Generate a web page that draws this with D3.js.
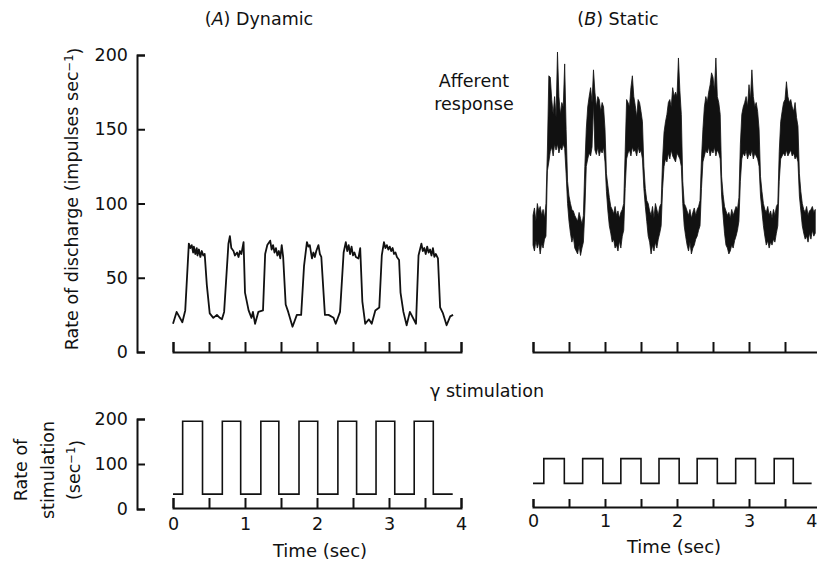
<!DOCTYPE html>
<html>
<head>
<meta charset="utf-8">
<script src="https://cdn.jsdelivr.net/npm/d3@7"></script>
<style>
body { margin: 0; background: #fff; }
svg text { font-family: "DejaVu Sans", "Liberation Sans", sans-serif; fill: #111; }
.axis path, .axis line { stroke: #111; stroke-width: 2; }
.axis text { font-size: 17.5px; fill: #111; }
</style>
</head>
<body>
<svg id="chart" width="817" height="564"></svg>
<script>

// (A) dynamic fusimotor - afferent discharge (impulses/sec), time in sec
var dynT = [0.00,0.05,0.13,0.17,0.22,0.24,0.26,0.28,0.29,0.31,0.33,0.34,0.36,0.38,0.40,0.42,0.44,0.47,
            0.51,0.56,0.61,0.65,0.68,0.71,0.77,0.79,0.81,0.84,0.86,0.89,0.91,0.93,0.95,0.98,
            1.00,1.05,1.09,1.11,1.14,1.185,1.25,1.28,1.31,1.35,1.37,1.39,1.41,1.43,1.45,1.47,1.49,1.51,1.53,
            1.565,1.60,1.66,1.72,1.78,1.82,1.86,1.88,1.90,1.93,1.95,1.97,1.99,2.02,2.04,2.06,
            2.11,2.16,2.23,2.26,2.32,2.37,2.40,2.42,2.44,2.46,2.48,2.50,2.52,2.54,2.575,2.60,
            2.63,2.67,2.72,2.76,2.81,2.865,2.90,2.93,2.95,2.97,2.99,3.01,3.03,3.05,3.07,3.09,3.11,3.14,
            3.16,3.20,3.245,3.29,3.375,3.41,3.45,3.47,3.49,3.51,3.53,3.55,3.57,3.59,3.61,3.63,3.65,3.68,
            3.71,3.75,3.80,3.85,3.89];
var dynV = [19,27,20,28,73,70,72,67,71,66,70,65,69,64,68,65,66,45,
            26,23,25,23,22,27,73,78,70,68,65,67,64,68,66,74,
            40,28,23,27,19,27,28,66,72,75,69,72,67,70,65,68,63,72,64,
            32,27,17,25,25,58,74,71,72,63,67,64,68,72,66,64,
            25,25,23,19,27,67,74,68,72,66,71,65,67,64,63,70,
            34,19,22,19,28,30,65,74,70,72,69,71,68,70,66,67,64,62,
            40,27,18,27,19,65,73,68,70,66,71,67,69,65,70,64,66,63,
            30,26,18,24,25];

// (B) static fusimotor - envelope of the noisy discharge, one sample every 0.02 sec
var staticStep = 0.02;
var staticLo = [72,68,75,70,74,66,73,70,76,78,
                122,128,135,138,132,140,136,140,134,138,
                136,140,137,120,100,88,80,74,78,70,
                68,66,72,65,70,74,95,125,130,134,
                132,138,168,136,133,138,132,136,134,138,
                128,108,95,85,80,74,76,70,72,68,
                75,70,78,82,110,130,134,136,132,138,
                135,136,132,138,134,136,130,110,98,88,
                78,74,66,72,68,74,70,76,80,85,
                110,125,130,128,134,130,136,132,130,128,
                134,132,130,125,100,85,78,72,68,74,
                66,70,72,76,78,82,85,110,128,132,
                136,134,138,132,136,134,138,132,136,134,
                130,105,92,80,72,70,66,68,72,70,
                75,78,82,88,115,130,134,132,136,130,
                134,132,136,130,134,132,130,125,105,95,
                85,78,72,75,70,74,72,76,74,80,
                85,115,130,132,134,132,136,132,134,136,
                132,134,130,132,128,105,95,85,80,76,
                78,74,80,76,82,78,80];
var staticHi = [92,97,88,100,95,98,92,96,90,100,
                136,186,185,170,160,172,158,202,172,160,
                168,165,194,150,115,105,100,96,95,92,
                90,88,94,90,86,92,125,150,165,172,
                178,168,190,175,165,172,170,162,168,165,
                150,120,112,104,98,96,93,98,92,95,
                90,94,96,100,135,170,168,165,178,186,
                172,166,158,170,168,162,155,125,110,102,
                100,95,92,98,90,100,96,92,98,100,
                130,148,155,160,168,170,165,178,172,175,
                172,198,176,160,115,100,98,95,92,96,
                90,94,97,92,96,98,102,130,150,165,
                172,168,175,180,188,185,176,198,172,168,
                160,118,106,98,95,92,94,90,96,92,
                95,98,96,104,140,160,165,168,172,165,
                180,170,190,172,165,168,162,150,118,108,
                100,96,94,98,92,95,90,96,92,98,
                100,135,155,162,168,170,182,172,168,170,
                165,162,168,158,152,120,108,100,96,94,
                98,92,95,96,98,94,96];

// gamma stimulation square waves (pulses/sec): time of each level change, level from then on
var stimAT = [0,0.134,0.41,0.685,0.94,1.22,1.47,1.75,2.01,2.29,2.55,2.82,3.08,3.35,3.615,3.885];
var stimAV = [33,195,33,195,33,195,33,195,33,195,33,195,33,195,33,33];
var stimBT = [0,0.15,0.435,0.69,0.97,1.22,1.50,1.75,2.03,2.28,2.56,2.815,3.09,3.35,3.615,3.87];
var stimBV = [57,112,57,112,57,112,57,112,57,112,57,112,57,112,57,57];

var dischargeTicks = [0,50,100,150,200];
var stimTicks = [0,100,200];
var timeTicks = [0,0.5,1,1.5,2,2.5,3,3.5,4];

var svg = d3.select("#chart");

var xA = d3.scaleLinear().domain([0,4]).range([173,461]);
var xB = d3.scaleLinear().domain([0,4]).range([533,821]);
var yTop = d3.scaleLinear().domain([0,200]).range([352,55]);
var yBot = d3.scaleLinear().domain([0,200]).range([509,419]);

// axes
svg.append("g").attr("class","axis")
  .attr("transform","translate(137,0)")
  .call(d3.axisLeft(yTop).tickValues(dischargeTicks)
    .tickSizeInner(-8).tickSizeOuter(-8).tickPadding(9));

svg.append("g").attr("class","axis")
  .attr("transform","translate(137,0)")
  .call(d3.axisLeft(yBot).tickValues(stimTicks)
    .tickSizeInner(-8).tickSizeOuter(-8).tickPadding(9));

svg.append("g").attr("class","axis")
  .attr("transform","translate(0,352)")
  .call(d3.axisBottom(xA).tickValues(timeTicks)
    .tickSizeInner(-10).tickSizeOuter(-10).tickFormat(""));

svg.append("g").attr("class","axis")
  .attr("transform","translate(0,352)")
  .call(d3.axisBottom(xB).tickValues(timeTicks)
    .tickSizeInner(-10).tickSizeOuter(-10).tickFormat(""));

function secLabel(d){ return d % 1 === 0 ? d : ""; }

svg.append("g").attr("class","axis")
  .attr("transform","translate(0,508)")
  .call(d3.axisBottom(xA).tickValues(timeTicks)
    .tickSizeInner(-10).tickSizeOuter(-10).tickPadding(10).tickFormat(secLabel));

var axB = svg.append("g").attr("class","axis")
  .attr("transform","translate(0,507)")
  .call(d3.axisBottom(xB).tickValues(timeTicks)
    .tickSizeInner(-8).tickSizeOuter(-8).tickPadding(8).tickFormat(secLabel));

// the "4" of panel B sits on the page edge; keep it inside
axB.selectAll(".tick text").filter(function(d){ return d === 4; })
  .attr("text-anchor","end").attr("x", 817 - xB(4));

svg.selectAll(".axis text").style("font-size","17.5px").style("font-family","DejaVu Sans");

// traces
var dynLine = d3.line()
  .x(function(i){ return xA(dynT[i]); })
  .y(function(i){ return yTop(dynV[i]); });

svg.append("path")
  .attr("d", dynLine(d3.range(dynT.length)))
  .attr("fill","none").attr("stroke","#111")
  .attr("stroke-width",1.8).attr("stroke-linejoin","round");

var staticArea = d3.area()
  .x(function(i){ return xB(i*staticStep); })
  .y0(function(i){ return yTop(staticLo[i]); })
  .y1(function(i){ return yTop(staticHi[i]); });

svg.append("path")
  .attr("d", staticArea(d3.range(staticLo.length)))
  .attr("fill","#111").attr("stroke","#111").attr("stroke-width",0.8);

var stimALine = d3.line().curve(d3.curveStepAfter)
  .x(function(i){ return xA(stimAT[i]); })
  .y(function(i){ return yBot(stimAV[i]); });
var stimBLine = d3.line().curve(d3.curveStepAfter)
  .x(function(i){ return xB(stimBT[i]); })
  .y(function(i){ return yBot(stimBV[i]); });

svg.append("path").attr("d", stimALine(d3.range(stimAT.length)))
  .attr("fill","none").attr("stroke","#111").attr("stroke-width",1.6);
svg.append("path").attr("d", stimBLine(d3.range(stimBT.length)))
  .attr("fill","none").attr("stroke","#111").attr("stroke-width",1.6);

// labels
var t1 = svg.append("text").attr("x",259).attr("y",25)
  .attr("text-anchor","middle").style("font-size","17.5px");
t1.append("tspan").text("(");
t1.append("tspan").style("font-style","italic").text("A");
t1.append("tspan").text(") Dynamic");

var t2 = svg.append("text").attr("x",618).attr("y",25)
  .attr("text-anchor","middle").style("font-size","17.5px");
t2.append("tspan").text("(");
t2.append("tspan").style("font-style","italic").text("B");
t2.append("tspan").text(") Static");

svg.append("text").attr("x",474).attr("y",87).attr("text-anchor","middle")
  .style("font-size","17.5px").text("Afferent");
svg.append("text").attr("x",474).attr("y",110).attr("text-anchor","middle")
  .style("font-size","17.5px").text("response");

svg.append("text").attr("x",487).attr("y",397).attr("text-anchor","middle")
  .style("font-size","17.5px").text("\u03b3 stimulation");

var yl = svg.append("text").attr("transform","translate(78,199) rotate(-90)")
  .attr("text-anchor","middle").style("font-size","17.5px");
yl.append("tspan").text("Rate of discharge (impulses sec");
yl.append("tspan").attr("dy","-0.45em").style("font-size","11.5px").text("\u22121");
yl.append("tspan").attr("dy","0.45em").text(")");

svg.append("text").attr("transform","translate(27,470) rotate(-90)")
  .attr("text-anchor","middle").style("font-size","17.5px").text("Rate of");
svg.append("text").attr("transform","translate(54,470) rotate(-90)")
  .attr("text-anchor","middle").style("font-size","17.5px").text("stimulation");
var sl = svg.append("text").attr("transform","translate(80,470) rotate(-90)")
  .attr("text-anchor","middle").style("font-size","17.5px");
sl.append("tspan").text("(sec");
sl.append("tspan").attr("dy","-0.45em").style("font-size","11.5px").text("\u22121");
sl.append("tspan").attr("dy","0.45em").text(")");

svg.append("text").attr("x",320).attr("y",557).attr("text-anchor","middle")
  .style("font-size","18px").text("Time (sec)");
svg.append("text").attr("x",674).attr("y",553).attr("text-anchor","middle")
  .style("font-size","18px").text("Time (sec)");

</script>
</body>
</html>
